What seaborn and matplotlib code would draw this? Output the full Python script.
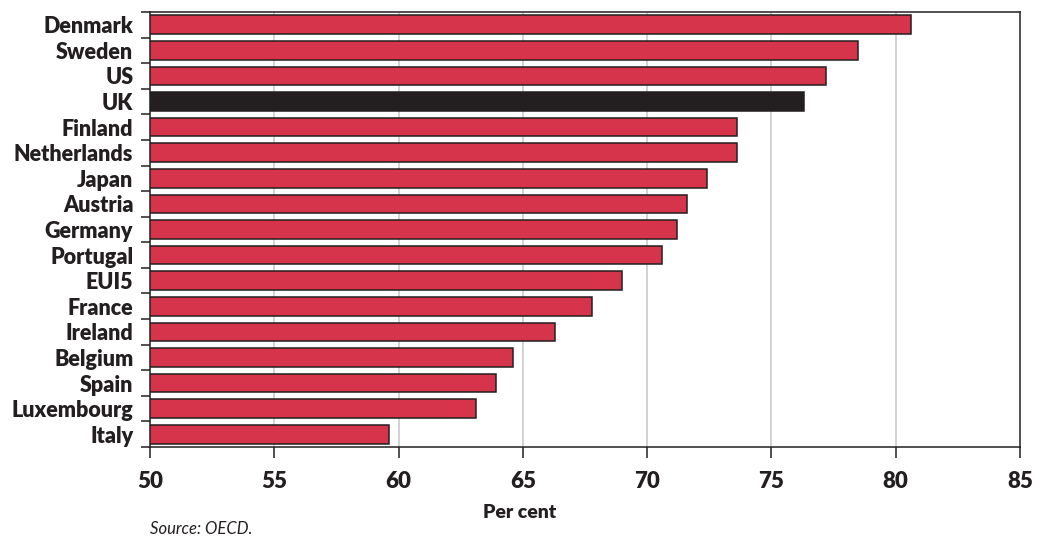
import matplotlib
matplotlib.use("Agg")
import matplotlib.pyplot as plt
import seaborn as sns
import pandas as pd
import numpy as np

countries = ["Denmark", "Sweden", "US", "UK", "Finland", "Netherlands", "Japan",
             "Austria", "Germany", "Portugal", "EU15", "France", "Ireland",
             "Belgium", "Spain", "Luxembourg", "Italy"]
values = [80.6, 78.5, 77.2, 76.3, 73.6, 73.6, 72.4, 71.6, 71.2, 70.6, 69.0,
          67.8, 66.3, 64.6, 63.9, 63.1, 59.6]
tick_labels = ["Denmark", "Sweden", "US", "UK", "Finland", "Netherlands", "Japan",
               "Austria", "Germany", "Portugal", "EUI5", "France", "Ireland",
               "Belgium", "Spain", "Luxembourg", "Italy"]
x_ticks = [50, 55, 60, 65, 70, 75, 80, 85]

RED = "#D5344A"
DARK = "#231F20"
palette = {c: (DARK if c == "UK" else RED) for c in countries}

sns.set_style("white")
plt.rcParams["font.family"] = ["Lato", "DejaVu Sans"]

df = pd.DataFrame({"country": countries, "value": values})

fig = plt.figure(figsize=(10.48, 5.39), dpi=100)
ax = fig.add_axes([150 / 1048, 1 - 447 / 539, 870 / 1048, 435 / 539])

ax.set_axisbelow(True)
for t in x_ticks[1:-1]:
    ax.axvline(t, color="#CFCFCF", lw=1.3, zorder=0)

sns.barplot(data=df, y="country", x="value", hue="country", palette=palette,
            orient="h", legend=False, width=0.73, edgecolor=DARK, linewidth=1.1,
            saturation=1, ax=ax, zorder=2)

ax.set_xlim(50, 85)
ax.set_ylim(len(countries) - 0.5, -0.5)
ax.set_xticks(x_ticks)
ax.set_xticklabels([str(t) for t in x_ticks], fontsize=16, fontweight="heavy", color=DARK)
ax.set_yticks(range(len(countries)))
ax.set_yticklabels(tick_labels, fontsize=15.5, fontweight="heavy", color=DARK)
ax.set_yticks(np.arange(-0.5, len(countries), 1.0), minor=True)
ax.tick_params(axis="y", which="major", length=0, pad=12)
ax.tick_params(axis="y", which="minor", left=True, length=6.5, width=1.1, color=DARK)
ax.tick_params(axis="x", which="major", bottom=True, length=8, width=1.1, color=DARK, pad=9)

ax.set_ylabel("")
ax.set_xlabel("Per cent", fontsize=14, fontweight="heavy", color=DARK)
ax.xaxis.set_label_coords(0.425, -0.13)

for s in ["left", "right", "top", "bottom"]:
    ax.spines[s].set_visible(True)
    ax.spines[s].set_color(DARK)
    ax.spines[s].set_linewidth(1.1)

fig.text(150 / 1048, 1 - 529 / 539, "Source: OECD.", fontsize=12, style="italic",
         color=DARK, va="center", ha="left")

fig.savefig("out.png", dpi=100)
